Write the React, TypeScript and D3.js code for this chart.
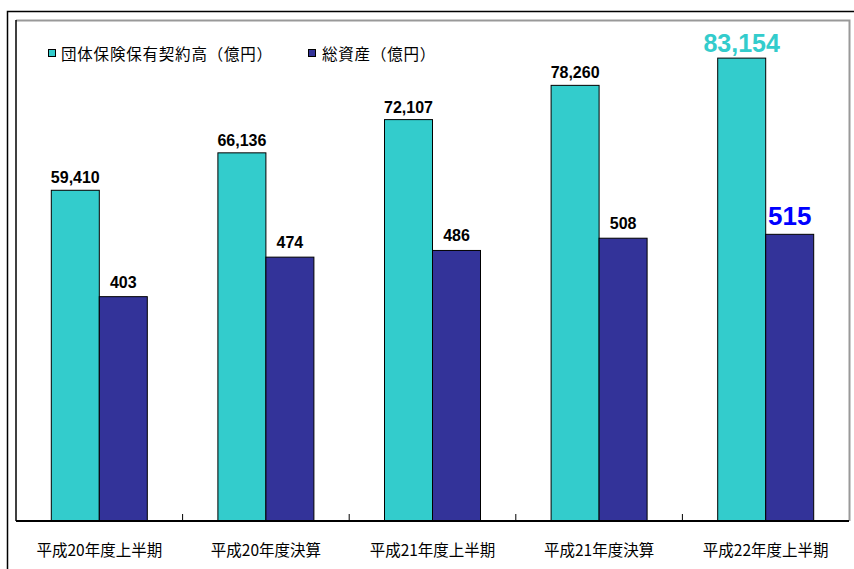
import React from "react";
import * as d3 from "d3";

const categories = ["平成20年度上半期", "平成20年度決算", "平成21年度上半期", "平成21年度決算", "平成22年度上半期"];
const contractValues = [59410, 66136, 72107, 78260, 83154];
const assetValues = [403, 474, 486, 508, 515];
const seriesNames = ["団体保険保有契約高（億円）", "総資産（億円）"];

const W = 854;
const H = 569;
const plot = { left: 16, right: 849, top: 20, bottom: 521 };
const TEAL = "#33CCCC";
const NAVY = "#333399";

export default function App() {
  const x = d3.scaleBand<string>().domain(categories).range([plot.left, plot.right]);
  const yC = d3.scaleLinear().domain([0, 90000]).range([plot.bottom, plot.top]);
  const yA = d3.scaleLinear().domain([0, 900]).range([plot.bottom, plot.top]);
  const barW = 48;
  const fmt = d3.format(",");
  const last = categories.length - 1;

  return (
    <svg width={W} height={H} style={{ position: "absolute", left: 0, top: 0, background: "#fff" }}
      fontFamily="'Liberation Sans', Arial, sans-serif">
      <rect x={0} y={0} width={W} height={H} fill="#fff" />
      {/* outer frame */}
      <path d={`M7.5,${H + 5} V11.5 H${W + 5}`} fill="none" stroke="#000" strokeWidth={1.5} />
      {/* plot area border */}
      <path d={`M${plot.left},${plot.top + 0.5} H${plot.right + 0.5} V${plot.bottom}`} fill="none" stroke="#999" strokeWidth={2} />
      {categories.map((c, i) => {
        const cx = x(c)! + x.bandwidth() / 2;
        const hl = i === last;
        return (
          <g key={c}>
            <rect x={cx - barW} y={yC(contractValues[i])} width={barW} height={plot.bottom - yC(contractValues[i])}
              fill={TEAL} stroke="#000" strokeWidth={1} />
            <rect x={cx} y={yA(assetValues[i])} width={barW} height={plot.bottom - yA(assetValues[i])}
              fill={NAVY} stroke="#000" strokeWidth={1} />
            <text x={cx - barW / 2} y={yC(contractValues[i]) - (hl ? 6 : 7)} textAnchor="middle"
              fontWeight="bold" fontSize={hl ? 25 : 16} fill={hl ? TEAL : "#000"}>{fmt(contractValues[i])}</text>
            <text x={cx + barW / 2} y={yA(assetValues[i]) - 9} textAnchor="middle"
              fontWeight="bold" fontSize={hl ? 26 : 16} fill={hl ? "#0000FF" : "#000"}>{fmt(assetValues[i])}</text>
            <text x={cx} y={556} textAnchor="middle" fontSize={15.5}
              fontFamily="'Noto Sans CJK JP', sans-serif" fill="#000">{c}</text>
          </g>
        );
      })}
      {/* axes */}
      <line x1={plot.left} x2={plot.left} y1={plot.top} y2={plot.bottom} stroke="#000" strokeWidth={1.5} />
      <line x1={plot.left} x2={plot.right} y1={plot.bottom} y2={plot.bottom} stroke="#000" strokeWidth={2} />
      {categories.slice(1).map((c) => (
        <line key={c} x1={x(c)!} x2={x(c)!} y1={plot.bottom} y2={plot.bottom - 7} stroke="#000" strokeWidth={1} />
      ))}
      {/* legend */}
      <g fontFamily="'Noto Sans CJK JP', sans-serif" fontSize={15.5} style={{ letterSpacing: "0.8px" }}>
        <rect x={48.5} y={49.5} width={7} height={7} fill={TEAL} stroke="#000" strokeWidth={1} />
        <text x={61} y={60}>{seriesNames[0]}</text>
        <rect x={308.5} y={49.5} width={7} height={7} fill={NAVY} stroke="#000" strokeWidth={1} />
        <text x={322} y={60}>{seriesNames[1]}</text>
      </g>
    </svg>
  );
}
